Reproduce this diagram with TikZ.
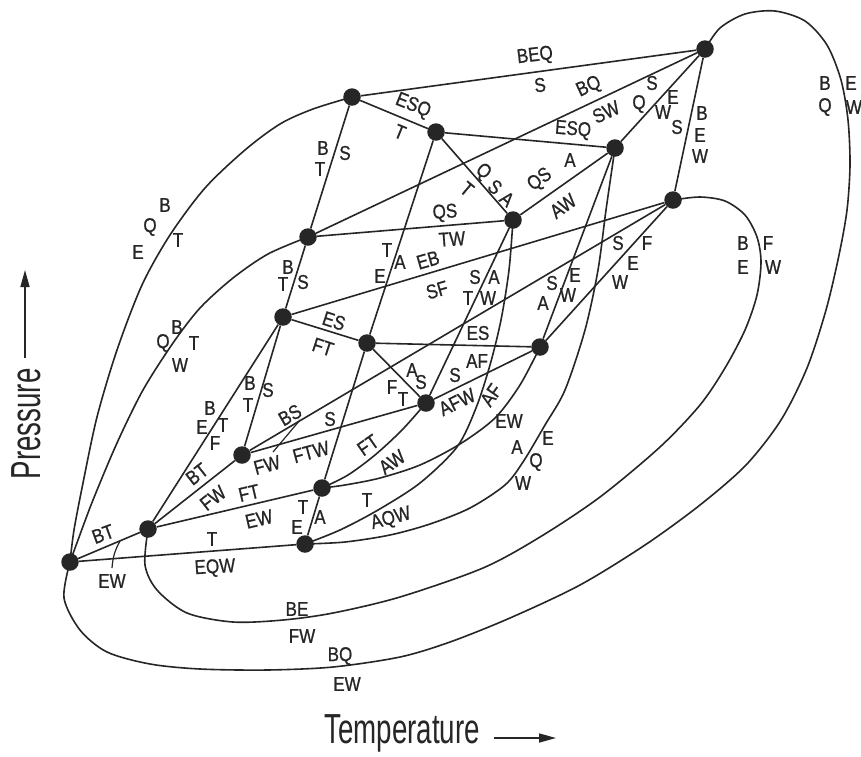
\documentclass[tikz,border=0pt]{standalone}
\usepackage{fontspec}
\setmainfont{Liberation Sans}
\newfontfamily\labfont[FakeStretch=0.85,FakeBold=0.8]{Liberation Sans}
\newfontfamily\axfont[FakeStretch=0.66]{Liberation Sans}
\usetikzlibrary{arrows.meta}
\begin{document}
\begin{tikzpicture}[x=1pt,y=-1pt,
  dot/.style={circle,fill=black!85,inner sep=0pt,minimum size=17.5pt},
  ln/.style={line width=1.6pt,black!85,line join=round},
  lead/.style={line width=1.2pt,black!85},
  lab/.style={font=\labfont\fontsize{20}{20}\selectfont,inner sep=0pt,text=black!85},
  ax/.style={font=\axfont\fontsize{42}{42}\selectfont,inner sep=0pt,text=black!85},
  axarrow/.style={line width=1.6pt,black!85,-{Triangle[length=17pt,width=9pt]}}]
\useasboundingbox (0,0) rectangle (861,756);
\fill[white] (0,0) rectangle (861,756);

% invariant points
\node[dot] (p1) at (705,49) {};
\node[dot] (p2) at (352,97) {};
\node[dot] (p3) at (436,132) {};
\node[dot] (p4) at (615,148) {};
\node[dot] (p5) at (673,200) {};
\node[dot] (p6) at (308,237) {};
\node[dot] (p7) at (513,220) {};
\node[dot] (p8) at (283,317) {};
\node[dot] (p9) at (367,343) {};
\node[dot] (p10) at (540,347) {};
\node[dot] (p11) at (426,403) {};
\node[dot] (p12) at (242,455) {};
\node[dot] (p13) at (322,488) {};
\node[dot] (p14) at (148,529) {};
\node[dot] (p15) at (305,544) {};
\node[dot] (p16) at (70,562) {};

% straight univariant lines
\draw[ln] (p1)--(p2) (p1)--(p6) (p1)--(p4) (p1)--(p5);
\draw[ln] (p2)--(p3) (p2)--(p6);
\draw[ln] (p3)--(p4) (p3)--(p7) (p3)--(p9);
\draw[ln] (p4)--(p7) (p4)--(p10);
\draw[ln] (p5)--(p8) (p5)--(p12) (p5)--(p10);
\draw[ln] (p6)--(p7) (p6)--(p8);
\draw[ln] (p7)--(p11);
\draw[ln] (p8)--(p9) (p8)--(p12) (p8)--(p14);
\draw[ln] (p9)--(p10) (p9)--(p11) (p9)--(p13);
\draw[ln] (p10)--(p11) (p11)--(p12) (p12)--(p14);
\draw[ln] (p13)--(p14) (p13)--(p15) (p14)--(p16) (p15)--(p16);

% curved univariant lines
\draw[ln] plot[smooth] coordinates {(p1.center) (720,28) (745,14) (775,11) (805,21) (827,45) (841,80) (848,120) (850,165) (847,210) (839,255) (826,310) (807,368) (781,420) (746,465) (700,505) (645,545) (580,585) (510,618) (450,642) (400,657) (333,667) (267,670) (200,669) (150,664) (107,652) (80,630) (64,598) (p16.center)};
\draw[ln] plot[smooth] coordinates {(p5.center) (700,197) (725,201) (745,215) (757,237) (761,262) (757,295) (745,330) (725,368) (700,405) (660,447) (600,497) (540,537) (483,568) (400,597) (333,613) (283,620) (233,622) (187,613) (157,590) (145,565) (p14.center)};
\draw[ln] plot[smooth] coordinates {(p16.center) (74,530) (83,483) (97,417) (117,350) (142,285) (170,235) (205,188) (245,150) (280,124) (313,109) (p2.center)};
\draw[ln] plot[smooth] coordinates {(p16.center) (78,540) (93,500) (117,443) (143,390) (173,343) (200,308) (233,278) (268,254) (p6.center)};
\draw[ln] plot[smooth] coordinates {(p7.center) (509,270) (501,320) (490,365) (476,408) (457,447) (420,483) (378,510) (340,530) (p15.center)};
\draw[ln] plot[smooth] coordinates {(p4.center) (606,210) (598,270) (585,330) (565,390) (545,425) (523,462) (505,485) (470,508) (430,524) (390,535) (345,542) (p15.center)};
\draw[ln] plot[smooth] coordinates {(p10.center) (520,385) (495,418) (460,444) (420,465) (380,478) (345,485) (p13.center)};
\draw[ln] plot[smooth] coordinates {(p11.center) (402,430) (375,455) (348,475) (p13.center)};

% leaders
\coordinate (l1a) at (112,568); \coordinate (l1b) at (120,541);
\draw[lead] (l1a) to[bend left=12] (l1b);
\coordinate (l2a) at (273,452); \coordinate (l2b) at (300,420);
\draw[lead] (l2a) -- (l2b);

% labels
\node[lab,rotate=7] at (535,56) {BEQ};
\node[lab,rotate=7] at (540,85) {S};
\node[lab,rotate=-22] at (413,106) {ESQ};
\node[lab,rotate=-22] at (400,132) {T};
\node[lab,rotate=25] at (589,87) {BQ};
\node[lab,rotate=25] at (606,112) {SW};
\node[lab,rotate=-5] at (573,130) {ESQ};
\node[lab] at (570,160) {A};
\node[lab] at (639,104) {Q};
\node[lab] at (652,83) {S};
\node[lab] at (673,97) {E};
\node[lab] at (663,112) {W};
\node[lab] at (677,127) {S};
\node[lab] at (702,113) {B};
\node[lab] at (700,135) {E};
\node[lab] at (700,156) {W};
\node[lab] at (825,83) {B};
\node[lab] at (851,83) {E};
\node[lab] at (825,107) {Q};
\node[lab] at (854,107) {W};
\node[lab] at (165,205) {B};
\node[lab] at (150,227) {Q};
\node[lab] at (138,252) {E};
\node[lab] at (178,240) {T};
\node[lab] at (323,148) {B};
\node[lab] at (320,169) {T};
\node[lab] at (345,153) {S};
\node[lab,rotate=-40] at (483,172) {Q};
\node[lab,rotate=-40] at (495,187) {S};
\node[lab,rotate=-40] at (507,199) {A};
\node[lab,rotate=-40] at (467,189) {T};
\node[lab,rotate=36] at (540,180) {QS};
\node[lab,rotate=36] at (563,206) {AW};
\node[lab,rotate=4] at (445,213) {QS};
\node[lab,rotate=4] at (452,239) {TW};
\node[lab] at (288,267) {B};
\node[lab] at (283,284) {T};
\node[lab] at (303,282) {S};
\node[lab] at (387,250) {T};
\node[lab] at (400,262) {A};
\node[lab] at (380,276) {E};
\node[lab,rotate=16] at (428,260) {EB};
\node[lab,rotate=16] at (437,290) {SF};
\node[lab] at (475,277) {S};
\node[lab] at (494,277) {A};
\node[lab] at (468,298) {T};
\node[lab] at (488,298) {W};
\node[lab,rotate=-18] at (334,321) {ES};
\node[lab,rotate=-18] at (323,347) {FT};
\node[lab] at (478,333) {ES};
\node[lab] at (477,361) {AF};
\node[lab] at (552,283) {S};
\node[lab] at (543,303) {A};
\node[lab] at (575,275) {E};
\node[lab] at (568,295) {W};
\node[lab] at (618,243) {S};
\node[lab] at (647,243) {F};
\node[lab] at (633,263) {E};
\node[lab] at (620,282) {W};
\node[lab] at (743,243) {B};
\node[lab] at (768,243) {F};
\node[lab] at (743,267) {E};
\node[lab] at (773,267) {W};
\node[lab] at (412,370) {A};
\node[lab] at (421,382) {S};
\node[lab] at (392,387) {F};
\node[lab] at (403,399) {T};
\node[lab] at (455,375) {S};
\node[lab,rotate=26] at (457,402) {AFW};
\node[lab,rotate=55] at (491,395) {AF};
\node[lab] at (509,421) {EW};
\node[lab] at (517,447) {A};
\node[lab] at (536,462) {Q};
\node[lab] at (548,438) {E};
\node[lab] at (523,483) {W};
\node[lab,rotate=30] at (290,415) {BS};
\node[lab,rotate=15] at (267,465) {FW};
\node[lab] at (330,419) {S};
\node[lab,rotate=15] at (311,452) {FTW};
\node[lab] at (250,383) {B};
\node[lab] at (248,405) {T};
\node[lab] at (268,390) {S};
\node[lab] at (210,408) {B};
\node[lab] at (202,427) {E};
\node[lab] at (223,425) {T};
\node[lab] at (215,443) {F};
\node[lab,rotate=38] at (197,474) {BT};
\node[lab,rotate=38] at (213,498) {FW};
\node[lab,rotate=13] at (249,493) {FT};
\node[lab,rotate=13] at (259,519) {EW};
\node[lab,rotate=35] at (368,445) {FT};
\node[lab,rotate=35] at (392,462) {AW};
\node[lab] at (303,507) {T};
\node[lab] at (320,517) {A};
\node[lab] at (297,527) {E};
\node[lab] at (367,500) {T};
\node[lab,rotate=15] at (391,519) {AQW};
\node[lab,rotate=20] at (103,534) {BT};
\node[lab] at (112,581) {EW};
\node[lab] at (212,539) {T};
\node[lab,rotate=3] at (215,568) {EQW};
\node[lab] at (297,609) {BE};
\node[lab] at (302,636) {FW};
\node[lab] at (340,656) {BQ};
\node[lab] at (347,684) {EW};
\node[lab] at (177,327) {B};
\node[lab] at (163,343) {Q};
\node[lab] at (194,343) {T};
\node[lab] at (180,365) {W};

% axes
\node[ax,rotate=90] (pres) at (26,424) {Pressure};
\coordinate (pa) at (25,358); \coordinate (pb) at (25,270);
\draw[axarrow] (pa) -- (pb);
\node[ax] (temp) at (402,733) {Temperature};
\coordinate (ta) at (494,738); \coordinate (tb) at (556,738);
\draw[axarrow] (ta) -- (tb);
\end{tikzpicture}
\end{document}
